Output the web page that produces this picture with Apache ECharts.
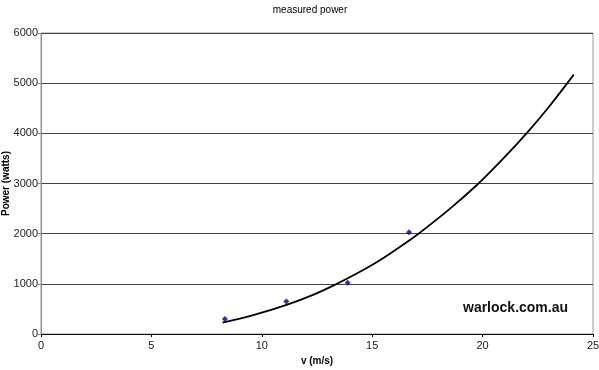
<!DOCTYPE html>
<html><head><meta charset="utf-8">
<script src="https://cdn.jsdelivr.net/npm/echarts@6/dist/echarts.min.js"></script>
<style>html,body{margin:0;padding:0;background:#fff}#c{width:599px;height:370px}</style>
</head><body><div id="c"></div>
<script>
const measuredSpeed = [8.33, 11.11, 13.89, 16.67];
const measuredPower = [300, 650, 1020, 2030];
const trendSpeed = [8.22, 9.61, 11.12, 12.32, 13.35, 14.3, 15.2, 16.1, 17.05, 18.5, 19.79, 20.92, 21.98, 22.99, 24.13];
const trendPower = [225, 375, 580, 780, 990, 1205, 1430, 1690, 1985, 2490, 2990, 3490, 3995, 4520, 5170];
const xTicks = [0, 5, 10, 15, 20, 25];
const yTicks = [0, 1000, 2000, 3000, 4000, 5000, 6000];

const chart = echarts.init(document.getElementById('c'));
const font = 'Liberation Sans, Arial, sans-serif';
chart.setOption({
  animation: false,
  backgroundColor: '#fff',
  title: {text: 'measured power', left: 305, top: 0, textAlign: 'center',
    textStyle: {fontSize: 10, fontWeight: 'normal', color: '#000', fontFamily: font}},
  grid: {left: 41, right: 6, top: 33, bottom: 36, containLabel: false, outerBoundsMode: 'none',
    show: true, borderColor: '#999', borderWidth: 1},
  xAxis: {type: 'value', min: xTicks[0], max: xTicks[xTicks.length-1], interval: 5,
    name: 'v (m/s)', nameLocation: 'middle', nameGap: 22, nameMoveOverlap: false,
    nameTextStyle: {fontSize: 10, fontWeight: 'bold', color: '#000', fontFamily: font},
    axisLine: {lineStyle: {color: '#000', type: 'dotted', width: 1}},
    axisTick: {show: true, inside: false, length: 3, lineStyle: {color: '#000'}},
    axisLabel: {fontSize: 11, color: '#222', fontFamily: font, margin: 6, formatter: v => String(v)},
    splitLine: {show: false}},
  yAxis: {type: 'value', min: yTicks[0], max: yTicks[yTicks.length-1], interval: 1000,
    name: 'Power (watts)', nameLocation: 'middle', nameGap: 30, nameRotate: 90, nameMoveOverlap: false,
    nameTextStyle: {fontSize: 10, fontWeight: 'bold', color: '#000', fontFamily: font},
    axisLine: {show: true, lineStyle: {color: '#888', width: 1}},
    axisTick: {show: true, length: 3, lineStyle: {color: '#888'}},
    axisLabel: {fontSize: 11, color: '#222', fontFamily: font, margin: 3, formatter: v => String(v)},
    splitLine: {show: true, lineStyle: {color: '#444', width: 1}}},
  graphic: [{type: 'text', left: 463, top: 301,
    style: {text: 'warlock.com.au', fontSize: 14, fontWeight: 'bold', fill: '#111', fontFamily: font}}],
  series: [
    {type: 'line', data: trendSpeed.map((v, i) => [v, trendPower[i]]), smooth: 0.3,
     showSymbol: false, lineStyle: {color: '#000', width: 1.8}, z: 3},
    {type: 'scatter', data: measuredSpeed.map((v, i) => [v, measuredPower[i]]),
     symbol: 'diamond', symbolSize: 6, itemStyle: {color: '#00008b'}, z: 4}
  ]
});
</script></body></html>
